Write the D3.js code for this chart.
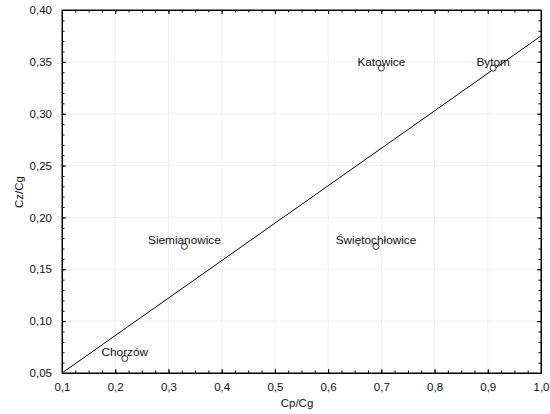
<!DOCTYPE html>
<html>
<head>
<meta charset="utf-8">
<script src="https://cdn.jsdelivr.net/npm/d3@7"></script>
<style>
  body { margin: 0; background: #fff; }
  svg { display: block; font-family: "Liberation Sans", Arial, sans-serif; }
</style>
</head>
<body>
<svg class="chart" width="550" height="414"></svg>
<script>
// Data
const cities = ['Katowice', 'Bytom', 'Siemianowice', 'Świętochłowice', 'Chorzów'];
const cpCg = [0.70, 0.91, 0.33, 0.69, 0.218];
const czCg = [0.344, 0.344, 0.172, 0.172, 0.064];
const fitX = [0.1, 1.0];
const fitY = [0.05, 0.375];
const xTicks = [0.1, 0.2, 0.3, 0.4, 0.5, 0.6, 0.7, 0.8, 0.9, 1.0];
const yTicks = [0.05, 0.10, 0.15, 0.20, 0.25, 0.30, 0.35, 0.40];

// Define margins
const margin = { top: 10, right: 9, bottom: 41, left: 62 };
const width = 550 - margin.left - margin.right;
const height = 414 - margin.top - margin.bottom;

// Define scales
const xScale = d3.scaleLinear().domain([0.1, 1.0]).range([0, width]);
const yScale = d3.scaleLinear().domain([0.05, 0.40]).range([height, 0]);
const fmt = d => d3.format('.1f')(d).replace('.', ',');
const fmtY = d => d3.format('.2f')(d).replace('.', ',');

const chart = d3.select('.chart')
  .append('g')
  .attr('transform', `translate(${margin.left},${margin.top})`);

// Grid lines
chart.append('g').selectAll('line').data(xTicks.slice(1, -1)).enter().append('line')
  .attr('x1', d => xScale(d)).attr('x2', d => xScale(d))
  .attr('y1', 0).attr('y2', height)
  .attr('stroke', '#e4e4e4').attr('stroke-dasharray', '1,1');
chart.append('g').selectAll('line').data(yTicks.slice(1, -1)).enter().append('line')
  .attr('y1', d => yScale(d)).attr('y2', d => yScale(d))
  .attr('x1', 0).attr('x2', width)
  .attr('stroke', '#e4e4e4').attr('stroke-dasharray', '1,1');

// Minor tick values
const xMinor = d3.range(0.1, 1.0001, 0.025);
const yMinor = d3.range(0.05, 0.4001, 0.01);

// Bottom axis
chart.append('g').attr('class', 'x axis').attr('transform', `translate(0,${height})`)
  .call(d3.axisBottom(xScale).tickValues(xTicks).tickFormat(fmt).tickSizeInner(-4).tickSizeOuter(0).tickPadding(10));
chart.append('g').attr('transform', `translate(0,${height})`)
  .call(d3.axisBottom(xScale).tickValues(xMinor).tickFormat('').tickSizeInner(-2.5).tickSizeOuter(0));
// Top axis
chart.append('g')
  .call(d3.axisTop(xScale).tickValues(xTicks).tickFormat('').tickSizeInner(-4).tickSizeOuter(0));
chart.append('g')
  .call(d3.axisTop(xScale).tickValues(xMinor).tickFormat('').tickSizeInner(-2.5).tickSizeOuter(0));
// Left axis
chart.append('g').attr('class', 'y axis')
  .call(d3.axisLeft(yScale).tickValues(yTicks).tickFormat(fmtY).tickSizeInner(-4).tickSizeOuter(0).tickPadding(10));
chart.append('g')
  .call(d3.axisLeft(yScale).tickValues(yMinor).tickFormat('').tickSizeInner(-2.5).tickSizeOuter(0));
// Right axis
chart.append('g').attr('transform', `translate(${width},0)`)
  .call(d3.axisRight(yScale).tickValues(yTicks).tickFormat('').tickSizeInner(-4).tickSizeOuter(0));
chart.append('g').attr('transform', `translate(${width},0)`)
  .call(d3.axisRight(yScale).tickValues(yMinor).tickFormat('').tickSizeInner(-2.5).tickSizeOuter(0));

chart.selectAll('.domain').attr('stroke', '#000').attr('stroke-width', 1);
chart.selectAll('.tick line').attr('stroke', '#000');
chart.selectAll('.tick text').attr('font-size', 11.5).attr('fill', '#111')
  .attr('font-family', '"Liberation Sans", Arial, sans-serif');

// Frame
chart.append('rect').attr('x', 0).attr('y', 0).attr('width', width).attr('height', height)
  .attr('fill', 'none').attr('stroke', '#000');

// Fit line
const line = d3.line().x(d => xScale(d[0])).y(d => yScale(d[1]));
chart.append('path').attr('d', line(fitX.map((x, i) => [x, fitY[i]])))
  .attr('fill', 'none').attr('stroke', '#000').attr('stroke-width', 1);

// Points and labels
const points = cities.map((c, i) => ({ name: c, x: cpCg[i], y: czCg[i] }));
const pt = chart.selectAll('.pt').data(points).enter().append('g').attr('class', 'pt');
pt.append('circle')
  .attr('cx', d => xScale(d.x)).attr('cy', d => yScale(d.y)).attr('r', 3)
  .attr('fill', '#fff').attr('stroke', '#000').attr('stroke-width', 0.8);
pt.append('text')
  .attr('x', d => xScale(d.x)).attr('y', d => yScale(d.y) - 2.5)
  .attr('text-anchor', 'middle').attr('font-size', 11.8).attr('fill', '#111')
  .text(d => d.name);

// Axis titles
d3.select('.chart').append('text')
  .attr('x', 297).attr('y', 407).attr('text-anchor', 'middle')
  .attr('font-size', 11.5).attr('fill', '#111').text('Cp/Cg');
d3.select('.chart').append('text')
  .attr('transform', 'translate(23,192) rotate(-90)').attr('text-anchor', 'middle')
  .attr('font-size', 11.5).attr('fill', '#111').text('Cz/Cg');
</script>
</body>
</html>
